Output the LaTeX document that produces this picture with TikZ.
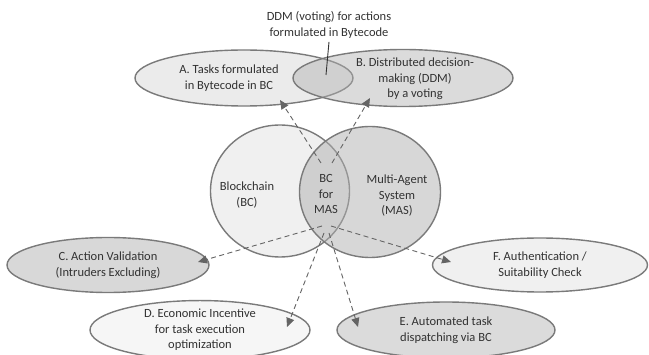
\documentclass[tikz,border=0pt]{standalone}
\usepackage{fontspec}
\setmainfont{Carlito}
\usetikzlibrary{shapes.geometric,arrows.meta}
\definecolor{edgegray}{RGB}{122,122,122}
\definecolor{arrowgray}{RGB}{100,100,100}
\definecolor{textgray}{RGB}{50,50,50}
\definecolor{paleshade}{RGB}{240,240,240}
\definecolor{lightshade}{RGB}{235,235,235}
\definecolor{midshade}{RGB}{216,216,216}
\definecolor{overlayshade}{RGB}{176,176,176}

\begin{document}
\begin{tikzpicture}[x=1pt, y=-1pt, font=\fontsize{12.5}{15.5}\selectfont, text=textgray,
    area/.style={ellipse, draw=edgegray, line width=1.4pt, inner sep=0pt, align=center, text opacity=1},
    txt/.style={align=center},
    link/.style={-{Triangle[length=9pt,width=8pt]}, dash pattern=on 5pt off 3.5pt, arrowgray, line width=0.9pt}]
    \useasboundingbox (0,0) rectangle (649,355);

    % the two core circles
    \node[area, fill=paleshade, minimum width=139pt, minimum height=132pt] (bc) at (280,191) {};
    \node[area, fill=overlayshade, fill opacity=0.5, minimum width=141pt, minimum height=131pt] (mas) at (370,192) {};
    \node[txt] (bclabel) at (247,195) {Blockchain\\(BC)};
    \node[txt] (bcmas) at (326,194) {BC\\for\\MAS};
    \node[txt] (maslabel) at (397,196) {Multi-Agent\\System\\(MAS)};

    % application fields
    \node[area, fill=lightshade, minimum width=218pt, minimum height=56pt] (tasks) at (244,78) {};
    \node[area, fill=overlayshade, fill opacity=0.45, minimum width=220pt, minimum height=57pt] (ddm) at (403,78) {};
    \node[txt] (taskslabel) at (229,78) {A. Tasks formulated\\in Bytecode in BC};
    \node[txt] (ddmlabel) at (415,79) {B. Distributed decision-\\making (DDM)\\by a voting};
    \node[area, fill=midshade, minimum width=202pt, minimum height=55pt] (valid) at (108,265) {C. Action Validation\\(Intruders Excluding)};
    \node[area, fill=paleshade!60!white, minimum width=220pt, minimum height=56pt] (incent) at (200,330) {D. Economic Incentive\\for task execution\\optimization};
    \node[area, fill=midshade!92!white, minimum width=218pt, minimum height=56pt] (dispatch) at (446,330) {E. Automated task\\dispatching via BC};
    \node[area, fill=paleshade, minimum width=215pt, minimum height=54pt] (auth) at (540,265) {F. Authentication /\\Suitability Check};

    % note on the overlap of A and B
    \node[txt] (ddmnote) at (329,25) {DDM (voting) for actions\\formulated in Bytecode};
    \coordinate (lens) at (326,75);
    \draw[textgray, line width=0.9pt] (ddmnote.south) -- (lens);

    % links from BC for MAS
    \draw[link] ([shift={(-5,-31)}]bcmas.center) -- ([shift={(36,22)}]tasks.center);
    \draw[link] ([shift={(6,-31)}]bcmas.center) -- ([shift={(-33,20)}]ddm.center);
    \draw[link] ([shift={(-4,32)}]bcmas.center) -- ([shift={(90,-3)}]valid.center);
    \draw[link] ([shift={(5,32)}]bcmas.center) -- ([shift={(-89,-3)}]auth.center);
    \draw[link] ([shift={(-2,39)}]bcmas.center) -- ([shift={(87,-3)}]incent.center);
    \draw[link] ([shift={(3,39)}]bcmas.center) -- ([shift={(-88,-3)}]dispatch.center);
\end{tikzpicture}
\end{document}
